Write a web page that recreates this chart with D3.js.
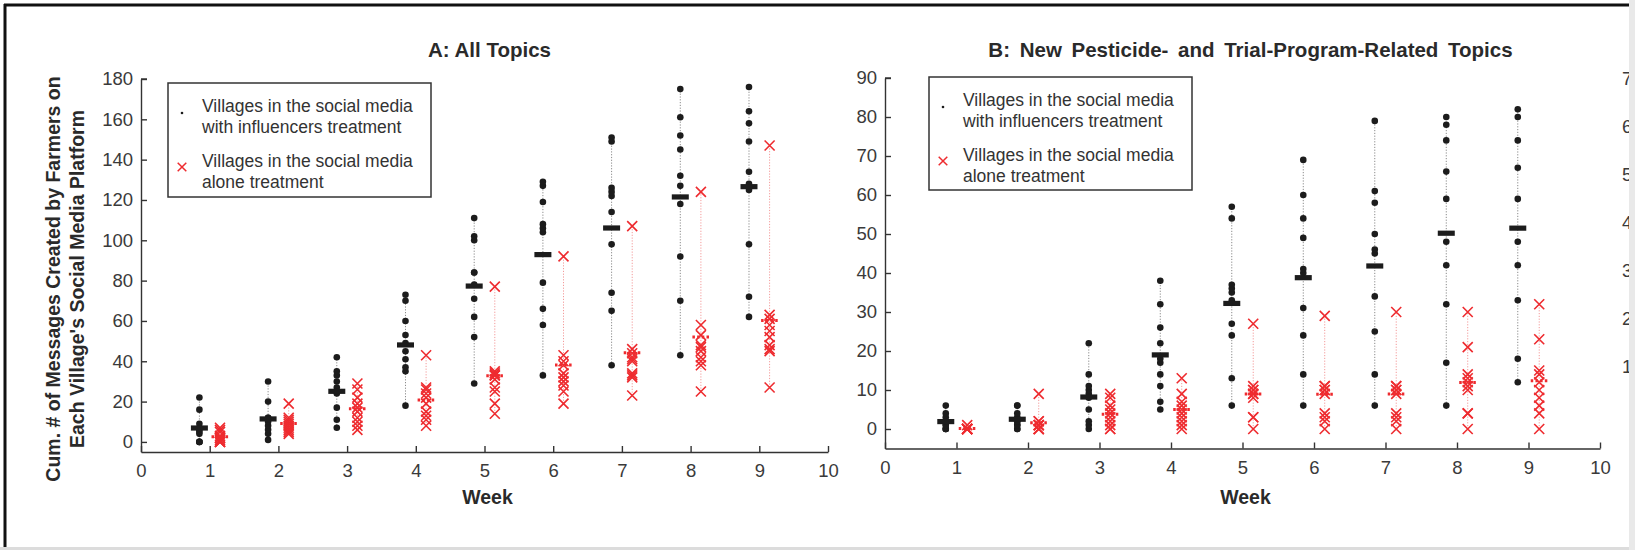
<!DOCTYPE html>
<html>
<head>
<meta charset="utf-8">
<script src="https://cdn.jsdelivr.net/npm/d3@7"></script>
<style>
  body { margin: 0; background: #fff; }
  text { font-family: "Liberation Sans", Arial, Helvetica, sans-serif; }
</style>
</head>
<body>
<svg id="chart" width="1635" height="550"></svg>
<script>
// weeks on the x axis
const weeks = [1, 2, 3, 4, 5, 6, 7, 8, 9];
const xTicks = [0, 1, 2, 3, 4, 5, 6, 7, 8, 9, 10];
const yTicksA = [0, 20, 40, 60, 80, 100, 120, 140, 160, 180];
const yTicksB = [0, 10, 20, 30, 40, 50, 60, 70, 80, 90];
const yTicksCut = [1, 2, 3, 4, 5, 6, 7];

// panel A: all topics, one row per week, one value per village
const allInfluencers = [
  [0, 0, 0, 4, 5, 6, 7, 9, 16, 22],
  [1, 4, 6, 8, 10, 11, 12, 12, 20, 30],
  [7, 11, 17, 24, 25, 27, 30, 33, 35, 42],
  [18, 35, 37, 41, 45, 49, 53, 60, 70, 73],
  [29, 52, 62, 71, 78, 84, 84, 100, 102, 111],
  [33, 58, 66, 79, 104, 106, 108, 119, 127, 129],
  [38, 65, 74, 98, 114, 122, 124, 126, 149, 151],
  [43, 70, 92, 118, 127, 132, 145, 152, 161, 175],
  [62, 72, 98, 125, 128, 134, 149, 158, 164, 176]
];
const allAlone = [
  [0, 0, 0, 1, 2, 2, 3, 5, 6, 7],
  [4, 5, 6, 7, 8, 9, 10, 11, 12, 19],
  [6, 8, 10, 12, 15, 17, 19, 22, 26, 29],
  [8, 11, 13, 15, 19, 22, 24, 26, 27, 43],
  [14, 19, 25, 27, 31, 33, 33, 34, 35, 77],
  [19, 25, 28, 30, 32, 34, 38, 40, 43, 92],
  [23, 32, 33, 34, 40, 41, 42, 44, 46, 107],
  [25, 38, 40, 42, 45, 47, 48, 53, 58, 124],
  [27, 45, 46, 48, 52, 55, 58, 61, 63, 147]
];

// panel B: new pesticide- and trial-program-related topics
const newInfluencers = [
  [0, 0, 0, 1, 1, 2, 2, 3, 4, 6],
  [0, 0, 1, 1, 2, 2, 3, 4, 6, 6],
  [0, 1, 2, 5, 8, 9, 10, 11, 14, 22],
  [5, 7, 11, 14, 17, 18, 22, 26, 32, 38],
  [6, 13, 24, 27, 33, 35, 36, 37, 54, 57],
  [6, 14, 24, 31, 40, 41, 49, 54, 60, 69],
  [6, 14, 25, 34, 45, 46, 50, 58, 61, 79],
  [6, 17, 32, 42, 48, 59, 66, 74, 78, 80],
  [12, 18, 33, 42, 48, 59, 67, 74, 80, 82]
];
const newAlone = [
  [0, 0, 0, 0, 0, 0, 0, 0, 0, 1],
  [0, 0, 0, 0, 1, 1, 1, 2, 2, 9],
  [0, 0, 1, 2, 3, 4, 5, 6, 8, 9],
  [0, 1, 2, 3, 4, 5, 6, 7, 9, 13],
  [0, 3, 3, 8, 9, 9, 10, 10, 11, 27],
  [0, 2, 3, 4, 9, 10, 10, 11, 11, 29],
  [0, 2, 3, 4, 9, 10, 10, 11, 11, 30],
  [0, 4, 4, 10, 11, 12, 13, 14, 21, 30],
  [0, 4, 6, 8, 10, 12, 14, 15, 23, 32]
];

const legendLines = [
  ["Villages in the social media", "with influencers treatment"],
  ["Villages in the social media", "alone treatment"]
];

const RED = "#ee2b2f";
const INK = "#1c1c1c";
const AXIS = "#333";
const OFF = 0.15;

const svg = d3.select("#chart");

// outer frame of the figure
svg.append("rect").attr("x", 0).attr("y", 0).attr("width", 1635).attr("height", 550).attr("fill", "#fff");
svg.append("line").attr("x1", 4).attr("x2", 1629).attr("y1", 5).attr("y2", 5)
  .attr("stroke", "#111").attr("stroke-width", 3);
svg.append("line").attr("x1", 5).attr("x2", 5).attr("y1", 4).attr("y2", 547)
  .attr("stroke", "#111").attr("stroke-width", 3);
svg.append("line").attr("x1", 0).attr("x2", 1635).attr("y1", 548.5).attr("y2", 548.5)
  .attr("stroke", "#dcdcdc").attr("stroke-width", 3);

const drawCross = (g, cx, cy, s, w) => {
  g.append("path")
    .attr("d", `M${cx - s},${cy - s}L${cx + s},${cy + s}M${cx - s},${cy + s}L${cx + s},${cy - s}`)
    .attr("stroke", RED).attr("stroke-width", w).attr("fill", "none");
};

const drawPanel = (cfg) => {
  const x = d3.scaleLinear().domain([0, 10]).range(cfg.xr);
  const y = d3.scaleLinear().domain(cfg.yd).range(cfg.yr);
  const g = svg.append("g");

  // axes, MATLAB style: ticks pointing inward
  const xAxis = g.append("g").attr("transform", `translate(0,${cfg.yr[0]})`)
    .call(d3.axisBottom(x).tickValues(xTicks).tickSizeInner(-6).tickSizeOuter(0).tickPadding(12).tickFormat(d3.format("d")));
  const yAxis = g.append("g").attr("transform", `translate(${cfg.xr[0]},0)`)
    .call(d3.axisLeft(y).tickValues(cfg.yTicks).tickSizeInner(-6).tickSizeOuter(0).tickPadding(8).tickFormat(d3.format("d")));
  [xAxis, yAxis].forEach(a => {
    a.select(".domain").attr("stroke", AXIS).attr("stroke-width", 1.4);
    a.selectAll(".tick line").attr("stroke", AXIS).attr("stroke-width", 1.4);
    a.selectAll(".tick text").attr("fill", "#3a3a3a").style("font-size", "18.5px")
      .style("font-family", "'Liberation Sans', Arial, sans-serif");
  });
  // top tick of the y axis
  yAxis.append("line").attr("x1", 0).attr("x2", 6).attr("y1", cfg.yr[1]).attr("y2", cfg.yr[1])
    .attr("stroke", AXIS).attr("stroke-width", 1.4);

  // title and axis labels
  g.append("text").attr("x", (cfg.xr[0] + cfg.xr[1]) / 2 + cfg.titleDx).attr("y", 52)
    .attr("text-anchor", "middle").attr("dominant-baseline", "middle")
    .attr("fill", "#2a2a2a").style("font-weight", "bold").style("font-size", "20.5px")
    .style("word-spacing", cfg.wordSpacing)
    .text(cfg.title);
  g.append("text").attr("x", (cfg.xr[0] + cfg.xr[1]) / 2 + 3).attr("y", 499)
    .attr("text-anchor", "middle").attr("dominant-baseline", "middle")
    .attr("fill", "#2a2a2a").style("font-weight", "bold").style("font-size", "19.5px")
    .text("Week");

  // vertical dotted ranges
  const groups = [
    { data: cfg.influencers, dx: -OFF, stroke: "#8a8a8a" },
    { data: cfg.alone, dx: OFF, stroke: "#f39a9a" }
  ];
  groups.forEach(grp => {
    g.selectAll(null).data(weeks).enter().append("line")
      .attr("x1", (d, i) => x(d + grp.dx)).attr("x2", (d, i) => x(d + grp.dx))
      .attr("y1", (d, i) => y(d3.min(grp.data[i]))).attr("y2", (d, i) => y(d3.max(grp.data[i])))
      .attr("stroke", grp.stroke).attr("stroke-width", 1).attr("stroke-dasharray", "1.2,1.6");
  });

  // black dots and mean bars
  weeks.forEach((w, i) => {
    const cx = x(w - OFF);
    g.selectAll(null).data(cfg.influencers[i]).enter().append("circle")
      .attr("cx", cx).attr("cy", d => y(d)).attr("r", 3.3).attr("fill", INK);
    g.append("rect").attr("x", cx - 8.5).attr("y", y(d3.mean(cfg.influencers[i])) - 2.6)
      .attr("width", 17).attr("height", 5.2).attr("fill", INK);
  });

  // red crosses and dotted mean marks
  weeks.forEach((w, i) => {
    const cx = x(w + OFF);
    cfg.alone[i].forEach(v => drawCross(g, cx, y(v), 5, 1.6));
    const my = y(d3.mean(cfg.alone[i]));
    g.append("line").attr("x1", cx - 8.5).attr("x2", cx + 8.5).attr("y1", my).attr("y2", my)
      .attr("stroke", RED).attr("stroke-width", 3).attr("stroke-dasharray", "2.5,2.2");
  });

  // legend
  const lg = g.append("g");
  lg.append("rect").attr("x", cfg.legend[0]).attr("y", cfg.legend[1])
    .attr("width", cfg.legend[2]).attr("height", cfg.legend[3])
    .attr("fill", "#fff").attr("stroke", "#333").attr("stroke-width", 1.5);
  const lx = cfg.legend[0];
  const ly = cfg.legend[1];
  lg.append("circle").attr("cx", lx + 14).attr("cy", ly + 30).attr("r", 1.3).attr("fill", INK);
  drawCross(lg, lx + 14, ly + 84, 4.3, 1.5);
  legendLines.forEach((lines, k) => {
    lines.forEach((t, j) => {
      lg.append("text").attr("x", lx + 34).attr("y", ly + 24 + k * 55 + j * 21)
        .attr("dominant-baseline", "middle").attr("fill", "#333")
        .style("font-size", "17.5px").text(t);
    });
  });
};

drawPanel({
  xr: [141, 828], yd: [-5, 180], yr: [452, 79], yTicks: yTicksA,
  influencers: allInfluencers, alone: allAlone,
  title: "A: All Topics", titleDx: 5, wordSpacing: "0px",
  legend: [168, 83, 263, 114]
});
drawPanel({
  xr: [885, 1600], yd: [-5, 90], yr: [448.5, 78], yTicks: yTicksB,
  influencers: newInfluencers, alone: newAlone,
  title: "B: New Pesticide- and Trial-Program-Related Topics", titleDx: 8, wordSpacing: "4px",
  legend: [929, 77, 263, 113]
});

// rotated y label of panel A
const yl = svg.append("g").attr("transform", "translate(55,279) rotate(-90)");
["Cum. # of Messages Created by Farmers on", "Each Village's Social Media Platform"].forEach((t, i) => {
  yl.append("text").attr("x", 0).attr("y", i * 24).attr("text-anchor", "middle")
    .attr("dominant-baseline", "middle").attr("fill", "#2a2a2a")
    .style("font-weight", "bold").style("font-size", "19.5px").text(t);
});

// the next panel's axis labels, cut by the right edge
const yCut = d3.scaleLinear().domain([0, 7]).range([416, 80]);
svg.append("g").selectAll("text").data(yTicksCut).enter().append("text")
  .attr("x", 1622).attr("y", d => yCut(d)).attr("dominant-baseline", "middle")
  .attr("fill", "#3a3a3a").style("font-size", "18.5px").text(d => d);
svg.append("rect").attr("x", 1629).attr("y", 0).attr("width", 6).attr("height", 550).attr("fill", "#e9e9e9");
</script>
</body>
</html>
